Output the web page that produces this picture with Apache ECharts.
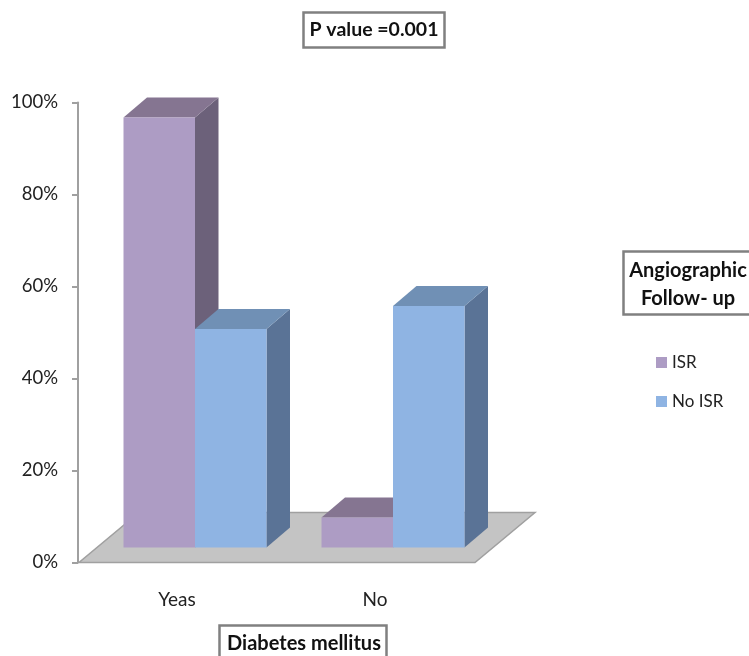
<!DOCTYPE html>
<html>
<head>
<meta charset="utf-8">
<style>html,body{margin:0;padding:0;background:#fff}#c{width:749px;height:656px}</style>
<script src="https://cdn.jsdelivr.net/npm/echarts@6/dist/echarts.min.js"></script>
</head>
<body>
<div id="c"></div>
<script>
var categories = ['Yeas', 'No'];
var isrValues = [93.5, 6.5];
var noIsrValues = [47.5, 52.5];
var yTickStep = 20;

var FONT = 'Lato, "Open Sans", sans-serif';
var BAR_W = 71.5, CAT_SHIFT = 18, BASE_LIFT = 15, DX = 23.5, DY = 20;
var FLOOR_DX = 60, FLOOR_DY = 50;

function barSeries(name, values, side, face, top, sideCol) {
  return {
    name: name,
    type: 'custom',
    coordinateSystem: 'cartesian2d',
    clip: false,
    z: 3,
    itemStyle: { color: face },
    data: values.map(function (v, i) { return [i, v]; }),
    encode: { x: 0, y: 1 },
    renderItem: function (params, api) {
      var p = api.coord([api.value(0), api.value(1)]);
      var b = api.coord([api.value(0), 0]);
      var l = p[0] + CAT_SHIFT + (side === 0 ? -BAR_W : 0);
      var r = l + BAR_W;
      var t = p[1] - BASE_LIFT;
      var y0 = b[1] - BASE_LIFT;
      return {
        type: 'group',
        children: [
          { type: 'polygon', shape: { points: [[r, t], [r + DX, t - DY], [r + DX, y0 - DY], [r, y0]] }, style: { fill: sideCol } },
          { type: 'polygon', shape: { points: [[l, t], [l + DX, t - DY], [r + DX, t - DY], [r, t]] }, style: { fill: top } },
          { type: 'rect', shape: { x: l, y: t, width: BAR_W, height: y0 - t }, style: { fill: face } }
        ]
      };
    }
  };
}

var chart = echarts.init(document.getElementById('c'), null, { renderer: 'canvas' });

function boxLabel(x, y, w, h, text, tx, ty, size) {
  return [
    { type: 'rect', shape: { x: x, y: y, width: w, height: h }, style: { fill: '#fff', stroke: '#808080', lineWidth: 2.5 }, z: 10 },
    { type: 'text', x: tx, y: ty, style: { text: text, fill: '#111', font: 'bold ' + size + 'px ' + FONT, align: 'center', verticalAlign: 'middle', lineHeight: 28 }, z: 11 }
  ];
}

chart.setOption({
  animation: false,
  backgroundColor: '#fff',
  grid: { left: 78, top: 102.5, width: 396, height: 460, containLabel: false },
  xAxis: {
    type: 'category',
    data: categories,
    axisLine: { show: false },
    axisTick: { show: false },
    axisLabel: { color: '#222', fontFamily: FONT, fontSize: 19, margin: 28 }
  },
  yAxis: {
    type: 'value',
    min: 0,
    max: 100,
    interval: yTickStep,
    splitLine: { show: false },
    axisLine: { show: true, lineStyle: { color: '#a0a0a0', width: 2 } },
    axisTick: { show: true, length: 6, lineStyle: { color: '#a0a0a0', width: 2 } },
    axisLabel: { color: '#222', fontFamily: FONT, fontSize: 18.5, margin: 20, padding: [0, 0, -4, 0], formatter: '{value}%' }
  },
  legend: {
    data: ['ISR', 'No ISR'],
    orient: 'vertical',
    left: 651,
    top: 349,
    icon: 'rect',
    itemWidth: 11,
    itemHeight: 11,
    itemGap: 22,
    textStyle: { color: '#222', fontFamily: FONT, fontSize: 17 }
  },
  series: [
    {
      type: 'custom',
      name: 'floor',
      coordinateSystem: 'cartesian2d',
      clip: false,
      z: 1,
      silent: true,
      data: [[0, 0]],
      encode: { x: 0, y: 1 },
      renderItem: function (params, api) {
        var cs = params.coordSys;
        var bottom = cs.y + cs.height;
        var left = cs.x + 1, right = cs.x + cs.width + 1;
        return {
          type: 'polygon',
          shape: { points: [[left, bottom], [right, bottom], [right + FLOOR_DX, bottom - FLOOR_DY], [left + FLOOR_DX, bottom - FLOOR_DY]] },
          style: { fill: '#c4c4c4', stroke: '#a0a0a0', lineWidth: 1.5 }
        };
      }
    },
    barSeries('ISR', isrValues, 0, '#ad9cc4', '#857591', '#6c617a'),
    barSeries('No ISR', noIsrValues, 1, '#8fb4e3', '#7090b5', '#5a7396')
  ],
  graphic: boxLabel(303.5, 12.5, 141, 35, 'P value =0.001', 374, 30, 19.5)
    .concat(boxLabel(623.5, 251.5, 130, 63, 'Angiographic\nFollow- up', 688, 285, 20))
    .concat(boxLabel(219.5, 625.5, 167, 40, 'Diabetes mellitus', 304, 644, 20))
});
</script>
</body>
</html>
